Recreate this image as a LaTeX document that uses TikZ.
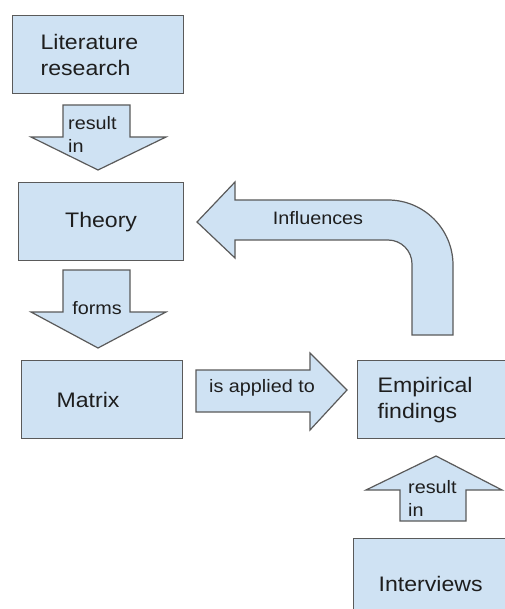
\documentclass[tikz,border=0pt]{standalone}
\usepackage{fontspec}
\setmainfont[FakeStretch=1.1]{Liberation Sans}
\definecolor{boxfill}{HTML}{CFE2F3}
\definecolor{boxline}{HTML}{5A5A5A}
\definecolor{txt}{HTML}{1E1E1E}
\tikzset{
  blk/.style={draw=boxline, fill=boxfill, line width=1.2pt, line join=miter},
  box/.style={blk, rectangle, inner ysep=0pt, anchor=north west, text=txt,
    font=\fontsize{21}{26}\selectfont},
  lbl/.style={font=\fontsize{18}{23}\selectfont, text=txt, align=left, inner sep=0pt}
}
\begin{document}
\begin{tikzpicture}[x=1pt, y=-1pt]
\useasboundingbox (0,0) rectangle (504,609);
\fill[white] (0,0) rectangle (504,609);

% boxes
\node[box, minimum width=171pt, minimum height=78pt, text width=115pt,
  inner xsep=28pt, align=left] (lit) at (12,15) {Literature\\research};
\node[box, minimum width=165pt, minimum height=78pt, inner xsep=0pt,
  align=center] (theory) at (18,182) {Theory};
\node[box, minimum width=161pt, minimum height=78pt, text width=91pt,
  inner xsep=35pt, align=left] (matrix) at (21,360) {Matrix};
\node[box, minimum width=163pt, minimum height=78pt, text width=123pt,
  inner xsep=20pt, align=left] (emp) at (357,360) {Empirical\\findings};
\node[box, minimum width=167pt, minimum height=90pt, text width=117pt,
  inner xsep=25pt, align=left] (interv) at (353,538) {Interviews};

% block arrows
\draw[blk] (63,105) -- (130,105) -- (130,137) -- (166,137) -- (98,170)
  -- (31,137) -- (63,137) -- cycle;
\node[lbl, anchor=west] (l1) at (68,134) {result\\in};

\draw[blk] (63,270) -- (130,270) -- (130,312) -- (166,312) -- (98,348)
  -- (31,312) -- (63,312) -- cycle;
\node[lbl, anchor=base] (l2) at (97,314) {forms};

\draw[blk] (196,370) -- (310,370) -- (310,353) -- (347,390) -- (310,430)
  -- (310,412) -- (196,412) -- cycle;
\node[lbl, anchor=base] (l3) at (262,392) {is applied to};

\draw[blk] (197,222) -- (235,182) -- (235,200) -- (388,200)
  arc[start angle=-90, end angle=0, radius=65] -- (453,335) -- (412,335)
  -- (412,264) arc[start angle=0, end angle=-90, radius=24] -- (235,240)
  -- (235,258) -- cycle;
\node[lbl, anchor=base] (l4) at (318,225) {Influences};

\draw[blk] (400,521) -- (400,490) -- (366,490) -- (436,456) -- (502,490)
  -- (466,490) -- (466,521) -- cycle;
\node[lbl, anchor=west] (l5) at (408,498.5) {result\\in};
\end{tikzpicture}
\end{document}
